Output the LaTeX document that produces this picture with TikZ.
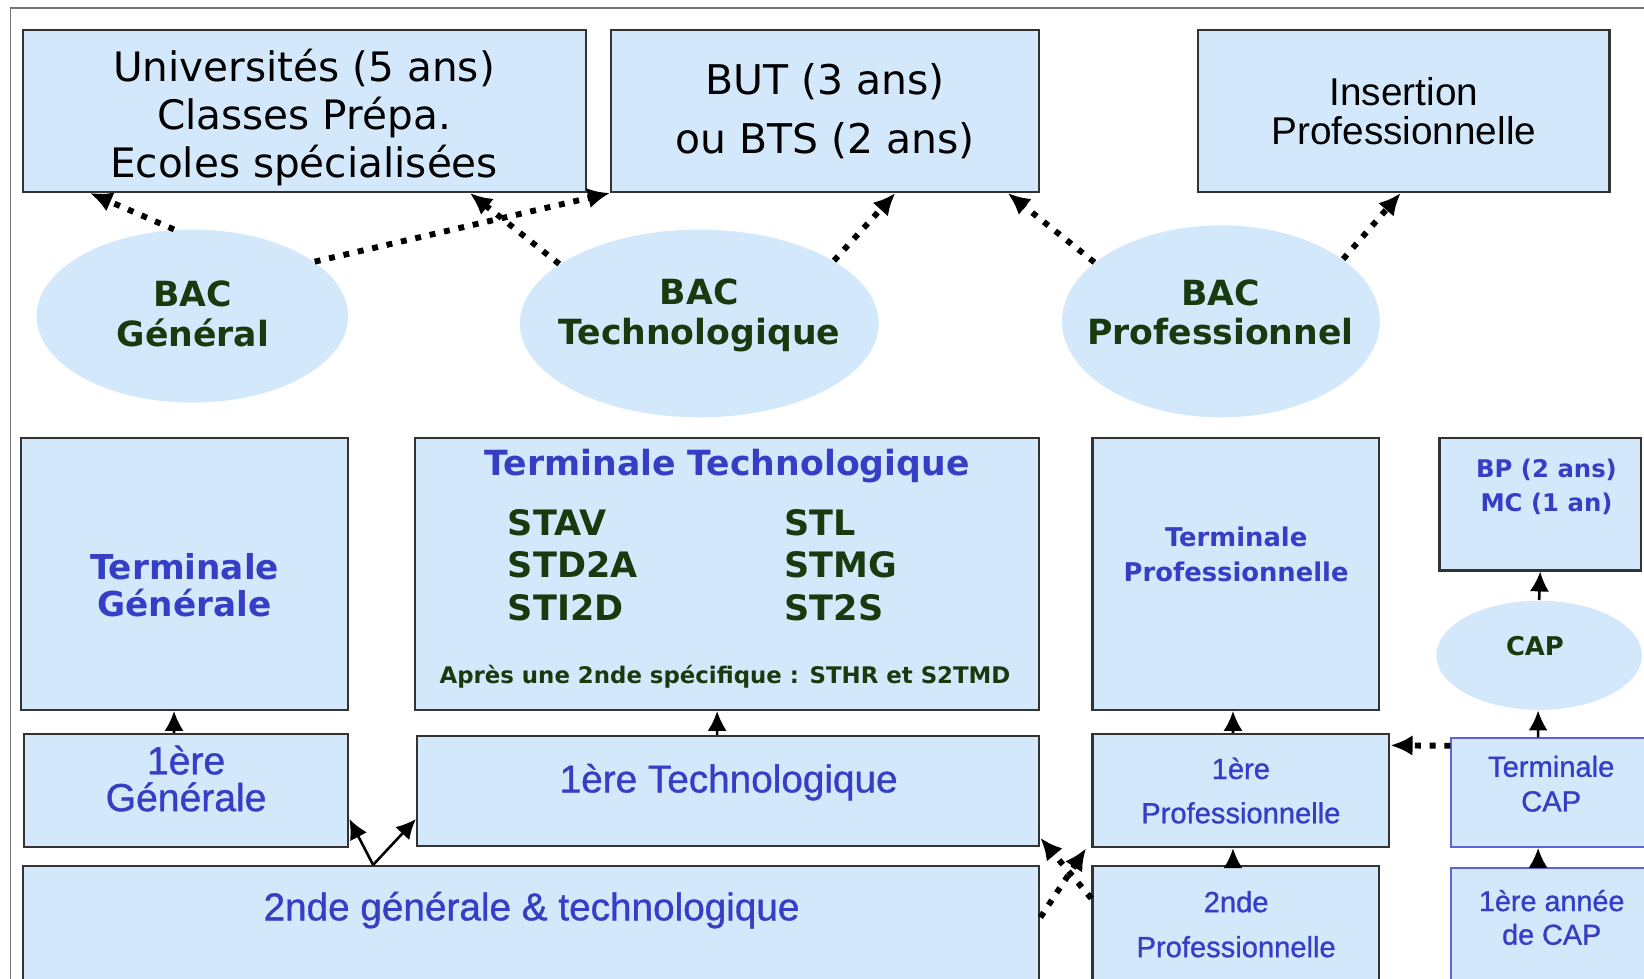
\documentclass[tikz,border=0pt]{standalone}
\usepackage{fontspec}
\setmainfont{DejaVu Sans}
\newfontfamily\arialfont{Liberation Sans}
\newfontfamily\arialgras[FakeBold=1]{Liberation Sans}
\usepackage{tikz}
\usetikzlibrary{arrows.meta}
\usetikzlibrary{positioning}
\usetikzlibrary{shapes.geometric}
\definecolor{fondbleu}{RGB}{211,233,251}
\definecolor{textebleu}{RGB}{54,62,198}
\definecolor{textevert}{RGB}{24,58,14}
\definecolor{bordbleu}{RGB}{92,100,216}
\tikzset{
    cadre/.style = {draw=black!80,line width=0.6pt,fill=fondbleu,inner sep=0},
    cadrecap/.style = {draw=bordbleu,line width=0.4pt,fill=fondbleu,inner sep=0},
    bac/.style = {ellipse,fill=fondbleu,inner sep=0},
    vert/.style = {text=textevert,align=center,font={\bfseries\fontsize{9.4}{10.8}\selectfont}},
    bleu/.style = {text=textebleu,align=center},
    orient/.style = {line width=1.6pt,dash pattern=on 1.6pt off 2.4pt,-{Latex[length=6pt,width=5.6pt]}},
    monte/.style = {line width=0.7pt,-{Latex[length=5.4pt,width=5.2pt]}}
}

\begin{document}
\begin{tikzpicture}[x=0.01cm,y=-0.01cm]
        \useasboundingbox (0,0) rectangle (1568,933);
        \clip (0,0) rectangle (1568,933);
        \draw[black!55,line width=0.5pt] (10,8) rectangle (1640,1000);
        % Poursuites d'etudes
        \node[cadre,minimum width=5.37cm,minimum height=1.54cm] (univ) at (290.5,106) {};
        \node[align=center,font={\fontsize{11}{13}\selectfont}] (univtxt) at (290,112) {Universités (5 ans)\\Classes Prépa.\\Ecoles spécialisées};
        \node[cadre,minimum width=4.08cm,minimum height=1.54cm,align=center,font={\fontsize{11.1}{16.2}\selectfont}] (but) at (787,106) {BUT (3 ans)\\ou BTS (2 ans)};
        \node[cadre,minimum width=3.92cm,minimum height=1.54cm,align=center,font={\arialfont\fontsize{10.5}{10.8}\selectfont}] (ins) at (1339,106) {Insertion\\Professionnelle};
        % Bacs
        \node[bac,minimum width=2.97cm,minimum height=1.65cm] (bacgen) at (183.5,301.5) {};
        \node[vert] (bacgentxt) at (184,299) {BAC\\Général};
        \node[bac,minimum width=3.42cm,minimum height=1.79cm] (bactech) at (667,308.5) {};
        \node[vert] (bactechtxt) at (667,301) {BAC\\Technologique};
        \node[bac,minimum width=3.03cm,minimum height=1.83cm] (bacpro) at (1164.5,306.5) {};
        \node[vert] (bacprotxt) at (1164,298) {BAC\\Professionnel};
        % Terminales
        \node[cadre,minimum width=3.12cm,minimum height=2.59cm] (termgen) at (176,547.5) {};
        \node[bleu,font={\bfseries\fontsize{9.3}{10}\selectfont}] (termgentxt) at (176,558) {Terminale\\Générale};
        \node[cadre,minimum width=5.95cm,minimum height=2.59cm] (termtech) at (693.5,547.5) {};
        \node[bleu,font={\bfseries\fontsize{9.4}{11}\selectfont}] (termtechtxt) at (693.5,445) {Terminale Technologique};
        \node[vert,align=left,anchor=west,font={\bfseries\fontsize{9.5}{11.5}\selectfont}] (seriesg) at (472,539) {STAV\\STD2A\\STI2D};
        \node[vert,align=left,anchor=west,font={\bfseries\fontsize{9.5}{11.5}\selectfont}] (seriesd) at (736,539) {STL\\STMG\\ST2S};
        \node[vert,font={\bfseries\fontsize{6.2}{7}\selectfont}] (apres) at (691.5,645) {Après une 2nde spécifique : STHR et S2TMD};
        \node[cadre,minimum width=2.73cm,minimum height=2.59cm] (termpro) at (1178.5,547.5) {};
        \node[bleu,font={\bfseries\fontsize{7}{9.4}\selectfont}] (termprotxt) at (1179,528.5) {Terminale\\Professionnelle};
        \node[cadre,minimum width=1.92cm,minimum height=1.26cm] (bp) at (1469,481) {};
        \node[bleu,font={\bfseries\fontsize{6.6}{9.4}\selectfont}] (bptxt) at (1475,464.5) {BP (2 ans)\\MC (1 an)};
        \node[bac,minimum width=1.96cm,minimum height=1.04cm] (cap) at (1468,625) {};
        \node[vert,font={\bfseries\fontsize{7}{8}\selectfont}] (captxt) at (1464,616) {CAP};
        % Premieres
        \node[cadre,minimum width=3.09cm,minimum height=1.08cm] (premgen) at (177.5,754) {};
        \node[bleu,font={\arialgras\fontsize{10.6}{10}\selectfont}] (premgentxt) at (177.5,742.5) {1ère\\Générale};
        \node[cadre,minimum width=5.93cm,minimum height=1.05cm] (premtech) at (694.5,754.5) {};
        \node[bleu,font={\arialgras\fontsize{10.5}{12}\selectfont}] (premtechtxt) at (695,746) {1ère Technologique};
        \node[cadre,minimum width=2.83cm,minimum height=1.08cm,bleu,font={\arialgras\fontsize{7.9}{12}\selectfont}] (prempro) at (1183.5,754) {1ère\\Professionnelle};
        \node[cadrecap,minimum width=1.96cm,minimum height=1.04cm] (termcap) at (1482,756) {};
        \node[bleu,font={\arialgras\fontsize{7.9}{9.4}\selectfont}] (termcaptxt) at (1479.5,747.5) {Terminale\\CAP};
        % Secondes
        \node[cadre,minimum width=9.69cm,minimum height=1.34cm] (secgen) at (506.5,893) {};
        \node[bleu,font={\arialgras\fontsize{10.5}{12}\selectfont}] (secgentxt) at (507,868) {2nde générale \& technologique};
        \node[cadre,minimum width=2.73cm,minimum height=1.34cm] (secpro) at (1178.5,893) {};
        \node[bleu,font={\arialgras\fontsize{7.9}{12.2}\selectfont}] (secprotxt) at (1179,881.5) {2nde\\Professionnelle};
        \node[cadrecap,minimum width=1.96cm,minimum height=1.32cm] (premcap) at (1482,894) {};
        \node[bleu,font={\arialgras\fontsize{7.8}{9.1}\selectfont}] (premcaptxt) at (1480,875) {1ère année\\de CAP};
        % Orientations apres le bac
        \draw[orient] (bacgen.102) to ([xshift=0.65cm]univ.south west);
        \draw[orient] (bacgen.24.7) to (but.south west);
        \draw[orient] (bactech.157.5) to ([xshift=-1.12cm]univ.south east);
        \draw[orient] (bactech.25.5) to ([xshift=2.72cm]but.south west);
        \draw[orient] (bacpro.155.4) to ([xshift=-0.31cm]but.south east);
        \draw[orient] (bacpro.27) to ([xshift=1.94cm]ins.south west);
        % Passerelles
        \draw[orient] ([yshift=-0.08cm]termcap.north west) to ([yshift=-0.12cm]prempro.north east);
        \draw[orient] ([yshift=-0.5cm]secgen.north east) to ([xshift=-0.05cm]prempro.south west);
        \draw[orient] ([yshift=-0.32cm]secpro.north west) to ([yshift=0.09cm]premtech.south east);
        % Passages
        \draw[monte] ([xshift=-0.115cm]premgen.north) to ([xshift=-0.1cm]termgen.south);
        \draw[monte] ([xshift=-0.105cm]premtech.north) to ([xshift=-0.095cm]termtech.south);
        \draw[monte] ([xshift=3.35cm]secgen.north west) to ([yshift=0.28cm]premgen.south east);
        \draw[monte] ([xshift=3.35cm]secgen.north west) to ([yshift=0.27cm]premtech.south west);
        \draw[monte] ([xshift=-0.075cm]prempro.north) to ([xshift=-0.025cm]termpro.south);
        \draw[monte] ([xshift=-0.025cm]secpro.north) to ([xshift=-0.075cm]prempro.south);
        \draw[monte] ([xshift=-0.15cm]termcap.north) to ([xshift=-0.01cm]cap.south);
        \draw[monte] (cap.north) to (bp.south);
        \draw[monte] ([xshift=-0.15cm]premcap.north) to ([xshift=-0.15cm]termcap.south);
    \end{tikzpicture}
\end{document}
